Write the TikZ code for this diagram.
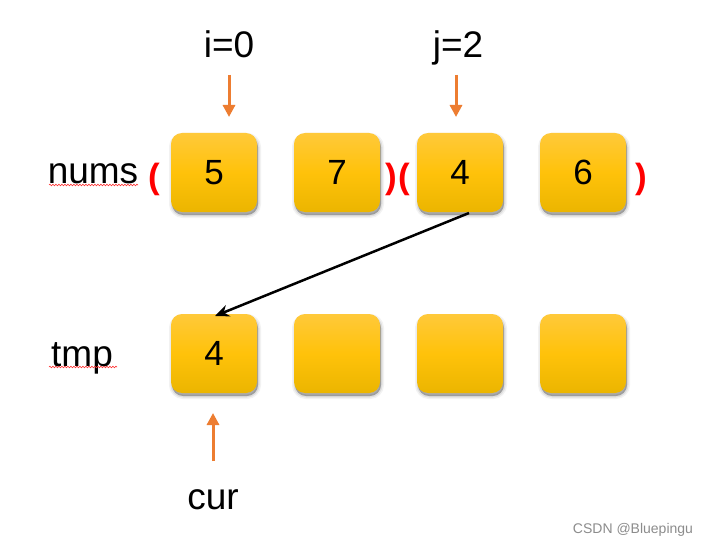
\documentclass[tikz,border=0pt]{standalone}
\usepackage{fontspec}
\setmainfont{Liberation Sans}
\usetikzlibrary{shadows,arrows.meta,decorations.pathmorphing}
\definecolor{boxtop}{HTML}{FFC93A}
\definecolor{boxmid}{HTML}{FFC20A}
\definecolor{boxbot}{HTML}{EBB500}
\definecolor{arrorange}{HTML}{ED7D31}
\definecolor{parred}{HTML}{FF0000}
\tikzset{
  softshadow/.style={
    preaction={fill=black, opacity=0.07, rounded corners=14pt, transform canvas={shift={(1pt,-3pt)}}, draw=black, line width=6pt, draw opacity=0.05},
    preaction={fill=black, opacity=0.10, rounded corners=12pt, transform canvas={shift={(1pt,-3pt)}}, draw=black, line width=3pt, draw opacity=0.08},
    preaction={fill=black, opacity=0.15, rounded corners=11pt, transform canvas={shift={(1pt,-3pt)}}}
  },
  cell/.style={softshadow, rounded corners=11pt, minimum width=86pt, minimum height=79pt,
    top color=boxtop, bottom color=boxbot, middle color=boxmid,
    inner sep=0pt, font=\fontsize{35}{40}\selectfont},
  lbl/.style={font=\fontsize{37}{44}\selectfont, inner sep=0pt},
  par/.style={font=\bfseries\fontsize{35}{40}\selectfont, text=parred, inner sep=0pt},
  ptr/.style={draw=arrorange, line width=3pt, -{Triangle[length=12pt,width=12pt]}},
  mv/.style={draw=black, line width=2.5pt, -{Stealth[length=14pt,width=12pt]}},
  squig/.style={draw=red!80, line width=0.6pt, decorate, decoration={snake, amplitude=0.8pt, segment length=3pt}}
}
\begin{document}
\begin{tikzpicture}[x=1pt,y=-1pt]
\useasboundingbox (0,0) rectangle (709,548);
\fill[white] (0,0) rectangle (709,548);
% top row
\node[cell] (n0) at (214,172.5) {5};
\node[cell] (n1) at (337,172.5) {7};
\node[cell] (n2) at (460,172.5) {4};
\node[cell] (n3) at (583,172.5) {6};
% bottom row
\node[cell] (t0) at (214,353.5) {4};
\node[cell] (t1) at (337,353.5) {};
\node[cell] (t2) at (460,353.5) {};
\node[cell] (t3) at (583,353.5) {};
% labels
\node[lbl, anchor=base] (nums) at (93,184) {nums};
\node[lbl, anchor=base] (tmp) at (82,366) {tmp};
\node[lbl, anchor=base] (ilab) at (229,58) {i=0};
\node[lbl, anchor=base] (jlab) at (458,58) {j=2};
\node[lbl, anchor=base] (cur) at (213,509) {cur};
\draw[squig] (49,185) -- (138,185);
\draw[squig] (49,367) -- (117,367);
% parentheses
\node[par] (p1) at (154,179) {(};
\node[par] (p2) at (391,179) {)};
\node[par] (p3) at (404,179) {(};
\node[par] (p4) at (641,179) {)};
% pointer arrows
\coordinate (ia) at (229,75);
\coordinate (ib) at (229,117);
\coordinate (ja) at (456,75);
\coordinate (jb) at (456,117);
\coordinate (ca) at (213,461);
\coordinate (cb) at (213,413);
\draw[ptr] (ia) -- (ib);
\draw[ptr] (ja) -- (jb);
\draw[ptr] (ca) -- (cb);
% move arrow
\coordinate (ms) at (469,213);
\coordinate (me) at (215,316);
\draw[mv] (ms) -- (me);
% watermark
\node[font=\fontsize{14}{16}\selectfont, text=black!45, inner sep=0pt] (wm) at (633,530) {CSDN @Bluepingu};
\end{tikzpicture}
\end{document}
